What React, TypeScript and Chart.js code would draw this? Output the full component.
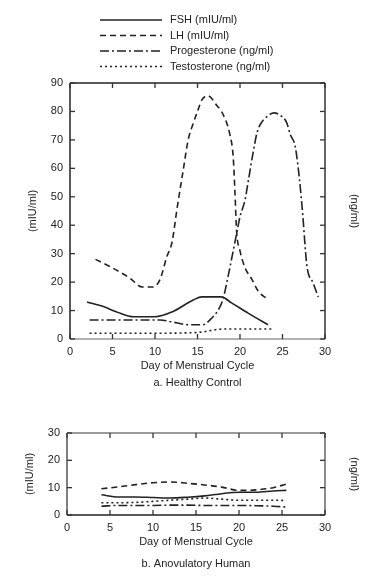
import React, { useEffect, useRef } from "react";
import { Chart, registerables } from "chart.js";

Chart.register(...registerables);

const FONT = "'Liberation Sans', Arial, sans-serif";

const legendLabels = ["FSH (mIU/ml)", "LH (mIU/ml)", "Progesterone (ng/ml)", "Testosterone (ng/ml)"];
const xTitle = "Day of Menstrual Cycle";
const captionA = "a. Healthy Control";
const captionB = "b. Anovulatory Human";
const leftUnit = "(mIU/ml)";
const rightUnit = "(ng/ml)";

// a. Healthy control
const fshDaysA = [2, 4, 5.5, 7.5, 10, 12, 14.5, 15.5, 17.8, 19, 21, 23.3];
const fshA = [13, 11.3, 9.5, 7.8, 7.8, 9.5, 13.7, 14.8, 14.8, 12.7, 9, 5];

const lhDaysA = [3, 5, 7, 8.5, 9.8, 10.6, 11.4, 12, 12.6, 13.3, 13.9, 14.4, 15, 15.5, 16.2, 17.3, 18, 18.8, 19.2, 19.4, 19.6, 20, 20.6, 21.4, 22.1, 23.2];
const lhA = [28, 25, 21.5, 18.3, 18.3, 21, 29, 34, 46, 59, 70, 75, 80, 84, 85.5, 82, 79, 72, 64, 52, 38, 31, 25, 21, 17, 14];

const progDaysA = [2.3, 6, 10.6, 12, 14, 15.6, 16.7, 17.4, 18, 18.6, 19.2, 19.6, 20, 20.6, 21, 21.6, 22, 22.4, 23.3, 24, 24.8, 25.5, 25.9, 26.5, 27, 27.4, 27.7, 27.9, 28.6, 29.2];
const progA = [6.7, 6.7, 6.7, 6, 5, 5, 7.4, 10, 14, 22, 31, 37, 43, 49, 56, 66.5, 72.5, 75.5, 78.5, 79.5, 78.5, 76, 72, 67.6, 56, 43, 31, 25, 19.7, 14.8];

const testoDaysA = [2.3, 8, 15, 18, 23.9];
const testoA = [2, 2, 2.3, 3.5, 3.5];

// b. Anovulatory
const daysB = [4, 6, 8, 10, 12, 14, 16, 18, 20, 22, 24, 25.5];
const fshB = [7.4, 6.6, 6.6, 6.4, 6.2, 6.5, 7, 7.8, 8.3, 8.3, 8.8, 9];
const lhB = [9.6, 10.3, 11.1, 11.8, 12.1, 11.6, 11, 10.2, 9, 9.2, 10, 11.3];
const progB = [3.2, 3.5, 3.5, 3.5, 3.6, 3.6, 3.5, 3.5, 3.5, 3.4, 3.2, 2.9];
const testoB = [4.5, 4.5, 4.6, 5, 5.4, 5.8, 6.2, 5.8, 5.4, 5.4, 5.4, 5.3];

const xTicks = [0, 5, 10, 15, 20, 25, 30];
const yTicksA = [0, 10, 20, 30, 40, 50, 60, 70, 80, 90];
const yTicksB = [0, 10, 20, 30];

const dashes = [[], [6, 4], [9, 3, 2, 3], [2, 3]];

const pts = (xs: number[], ys: number[]) => xs.map((x, i) => ({ x, y: ys[i] }));

function makeDatasets(series: { x: number[]; y: number[] }[]) {
  return series.map((s, i) => ({
    label: legendLabels[i],
    data: pts(s.x, s.y),
    borderColor: "#222",
    backgroundColor: "#222",
    borderWidth: 1.6,
    borderDash: dashes[i],
    pointRadius: 0,
    fill: false,
    cubicInterpolationMode: "monotone" as const,
  }));
}

const framePlugin = {
  id: "frameTicks",
  afterDatasetsDraw(chart: any, _args: any, opts: any) {
    const { ctx, chartArea: a, scales } = chart;
    ctx.save();
    ctx.setLineDash([]);
    const line = (x1: number, y1: number, x2: number, y2: number) => {
      ctx.beginPath();
      ctx.moveTo(x1, y1);
      ctx.lineTo(x2, y2);
      ctx.stroke();
    };
    ctx.lineWidth = 1.5;
    ctx.strokeStyle = opts.topColor;
    line(a.left, a.top, a.right, a.top);
    ctx.strokeStyle = opts.bottomColor;
    line(a.left, a.bottom, a.right, a.bottom);
    ctx.strokeStyle = opts.leftColor;
    line(a.left, a.top, a.left, a.bottom);
    ctx.strokeStyle = opts.rightColor;
    line(a.right, a.top, a.right, a.bottom);

    ctx.lineWidth = 1.3;
    ctx.strokeStyle = "#333";
    scales.x.ticks.forEach((t: any) => {
      const px = scales.x.getPixelForValue(t.value);
      line(px, a.bottom, px, a.bottom - 5);
      line(px, a.top, px, a.top + 5);
    });
    scales.y.ticks.forEach((t: any) => {
      const py = scales.y.getPixelForValue(t.value);
      line(a.left, py, a.left + 5, py);
      line(a.right, py, a.right - 5, py);
    });

    ctx.fillStyle = "#222";
    ctx.font = `11px ${FONT}`;
    ctx.textAlign = "center";
    ctx.textBaseline = "middle";
    ctx.fillText(opts.caption, (a.left + a.right) / 2, opts.captionY);

    if (opts.legend) {
      chart.data.datasets.forEach((ds: any, i: number) => {
        const y = opts.legendY0 + i * opts.legendStep;
        ctx.setLineDash(ds.borderDash || []);
        ctx.lineWidth = 1.5;
        ctx.strokeStyle = ds.borderColor;
        line(opts.legendX0, y, opts.legendX1, y);
        ctx.setLineDash([]);
        ctx.textAlign = "left";
        ctx.fillText(ds.label, opts.legendTextX, y);
      });
    }
    ctx.restore();
  },
};

function makeConfig(p: {
  datasets: any[];
  yMax: number;
  yTicks: number[];
  padTop: number;
  leftW: number;
  rightW: number;
  xH: number;
  caption: string;
  captionY: number;
  legend: boolean;
  frame: { topColor: string; bottomColor: string; leftColor: string; rightColor: string };
}) {
  return {
    type: "line" as const,
    data: { datasets: p.datasets },
    plugins: [framePlugin],
    options: {
      animation: false as const,
      responsive: false,
      maintainAspectRatio: false,
      layout: { padding: { top: p.padTop, left: 0, right: 0, bottom: 0 } },
      plugins: {
        legend: { display: false },
        tooltip: { enabled: false },
        frameTicks: {
          ...p.frame,
          caption: p.caption,
          captionY: p.captionY,
          legend: p.legend,
          legendY0: 20,
          legendStep: 15.5,
          legendX0: 100,
          legendX1: 162,
          legendTextX: 170,
        },
      },
      scales: {
        x: {
          type: "linear" as const,
          min: xTicks[0],
          max: xTicks[xTicks.length - 1],
          afterBuildTicks: (s: any) => {
            s.ticks = xTicks.map((v) => ({ value: v }));
          },
          afterFit: (s: any) => {
            s.height = p.xH;
          },
          grid: { display: false, drawTicks: false },
          border: { display: false },
          ticks: { color: "#222", padding: 6, font: { family: FONT, size: 11 } },
          title: {
            display: true,
            text: xTitle,
            color: "#222",
            font: { family: FONT, size: 11 },
            padding: { top: 0, bottom: 27 },
          },
        },
        y: {
          type: "linear" as const,
          position: "left" as const,
          min: 0,
          max: p.yMax,
          afterBuildTicks: (s: any) => {
            s.ticks = p.yTicks.map((v) => ({ value: v }));
          },
          afterFit: (s: any) => {
            s.width = p.leftW;
          },
          grid: { display: false, drawTicks: false },
          border: { display: false },
          ticks: { color: "#222", padding: 7, font: { family: FONT, size: 11 } },
          title: {
            display: true,
            text: leftUnit,
            color: "#222",
            font: { family: FONT, size: 11 },
            padding: { top: p.leftW - 44, bottom: 0 },
          },
        },
        y2: {
          type: "linear" as const,
          position: "right" as const,
          min: 0,
          max: p.yMax,
          afterFit: (s: any) => {
            s.width = p.rightW;
          },
          grid: { display: false, drawTicks: false },
          border: { display: false },
          ticks: { display: false },
          title: {
            display: true,
            text: rightUnit,
            color: "#222",
            font: { family: FONT, size: 11 },
            padding: { top: 13, bottom: 0 },
          },
        },
      },
    },
  };
}

function ChartCanvas({ config, width, height, top }: { config: any; width: number; height: number; top: number }) {
  const ref = useRef<HTMLCanvasElement | null>(null);
  useEffect(() => {
    if (!ref.current) return;
    const chart = new Chart(ref.current, config);
    return () => chart.destroy();
  }, [config]);
  return (
    <canvas
      ref={ref}
      width={width}
      height={height}
      style={{ position: "absolute", left: 0, top, width, height, display: "block" }}
    />
  );
}

const configA = makeConfig({
  datasets: makeDatasets([
    { x: fshDaysA, y: fshA },
    { x: lhDaysA, y: lhA },
    { x: progDaysA, y: progA },
    { x: testoDaysA, y: testoA },
  ]),
  yMax: 90,
  yTicks: yTicksA,
  padTop: 83,
  leftW: 70,
  rightW: 49,
  xH: 61,
  caption: captionA,
  captionY: 383,
  legend: true,
  frame: { topColor: "#222", bottomColor: "#999", leftColor: "#222", rightColor: "#333" },
});

const configB = makeConfig({
  datasets: makeDatasets([
    { x: daysB, y: fshB },
    { x: daysB, y: lhB },
    { x: daysB, y: progB },
    { x: daysB, y: testoB },
  ]),
  yMax: 30,
  yTicks: yTicksB,
  padTop: 33,
  leftW: 67,
  rightW: 49,
  xH: 61,
  caption: captionB,
  captionY: 164,
  legend: false,
  frame: { topColor: "#777", bottomColor: "#222", leftColor: "#555", rightColor: "#666" },
});

export default function App() {
  return (
    <div style={{ position: "absolute", left: 0, top: 0, width: 374, height: 576, background: "#fff" }}>
      <ChartCanvas config={configA} width={374} height={400} top={0} />
      <ChartCanvas config={configB} width={374} height={176} top={400} />
    </div>
  );
}
